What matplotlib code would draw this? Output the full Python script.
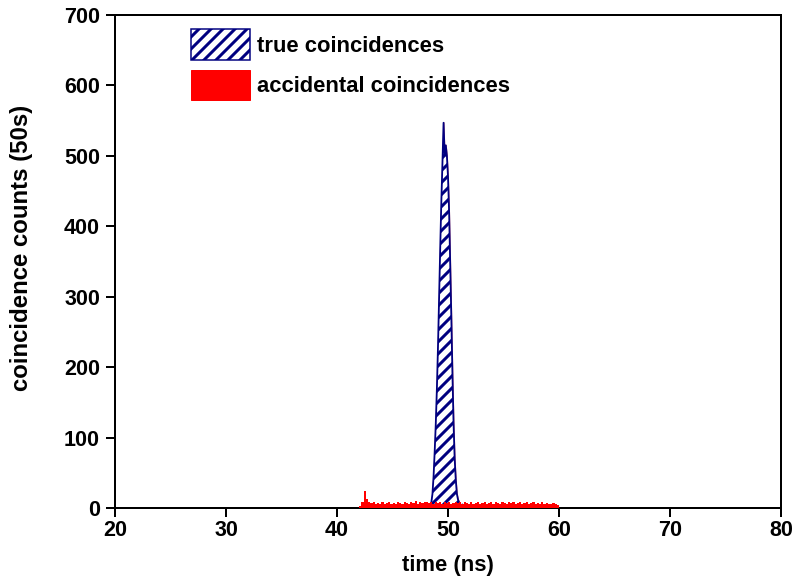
import numpy as np
import matplotlib.pyplot as plt
from matplotlib.patches import Patch

plt.rcParams['font.family'] = ['Liberation Sans', 'DejaVu Sans']
plt.rcParams['font.weight'] = 'bold'
plt.rcParams['hatch.linewidth'] = 3.0

# accidental coincidences, 0.2 ns bins starting at 42.0 ns
acc_start = 42.0
acc_width = 0.2
acc_counts = [3, 9, 24, 13, 8, 7, 8, 6, 7, 5, 8, 6, 7, 9, 6, 7, 5, 8, 7, 6,
              9, 7, 6, 8, 7, 10, 6, 8, 7, 9,
              8, 7, 9, 6, 8, 7, 8, 6, 9, 7, 8, 6, 7, 8, 7, 9, 6, 8, 7, 6,
              8, 6, 7, 9, 6, 7, 8, 6, 7, 8, 6, 9, 7, 6, 8, 7, 6, 8, 7, 9,
              6, 7, 8, 6, 7, 9, 6, 7, 8, 6, 7, 5, 8, 6, 7, 6, 5, 7, 6, 4]

# true coincidences peak, 0.1 ns steps from 47.8 ns
true_start = 47.8
true_step = 0.1
true_counts = [0, 3, 4, 3, 5, 4, 4, 8, 20, 45, 80, 120, 170, 230, 300, 370,
               435, 490, 547, 500, 515, 500, 470, 420, 345, 270, 190, 120,
               70, 40, 20, 12, 8, 5, 4, 5, 3, 4, 3, 2, 0]

acc_t = acc_start + acc_width * np.arange(len(acc_counts) + 1)
acc_y = np.append(acc_counts, acc_counts[-1])
true_t = true_start + true_step * np.arange(len(true_counts))

fig = plt.figure(figsize=(793 / 72, 584 / 72), dpi=72)
ax = fig.add_axes([115 / 793, 76 / 584, 666 / 793, 493 / 584])

# faint red outline that shows along the peak edges
ax.plot(true_t + 0.03, true_counts, color='#d06070', linewidth=1.2, zorder=1)
ax.fill_between(true_t, 0, true_counts, facecolor='white', edgecolor='#000080',
                hatch='//', linewidth=1.8, zorder=2)
ax.fill_between(acc_t, 0, acc_y, step='post', color='red', linewidth=0, zorder=3)

ax.set_xlim(20, 80)
ax.set_ylim(0, 700)
ax.set_xticks([20, 30, 40, 50, 60, 70, 80])
ax.set_yticks(range(0, 701, 100))
ax.tick_params(direction='out', length=9, width=2, labelsize=21.5, pad=6,
               top=False, right=False)
ax.tick_params(axis='x', pad=3)
for s in ax.spines.values():
    s.set_linewidth(2)

ax.set_xlabel('time (ns)', fontsize=22, fontweight='bold', labelpad=14)
ax.set_ylabel('coincidence counts (50s)', fontsize=24, fontweight='bold')
ax.yaxis.set_label_coords(-0.123, 0.528)

handles = [Patch(facecolor='white', edgecolor='#000080', hatch='//', linewidth=1.5),
           Patch(facecolor='red', edgecolor='red')]
ax.legend(handles, ['true coincidences', 'accidental coincidences'],
          loc='upper left', bbox_to_anchor=(0.093, 1.0), frameon=False,
          fontsize=22, handlelength=2.65, handleheight=1.75, handletextpad=0.35,
          labelspacing=0.45, borderaxespad=0.25)

fig.savefig('out.png', dpi=72)
